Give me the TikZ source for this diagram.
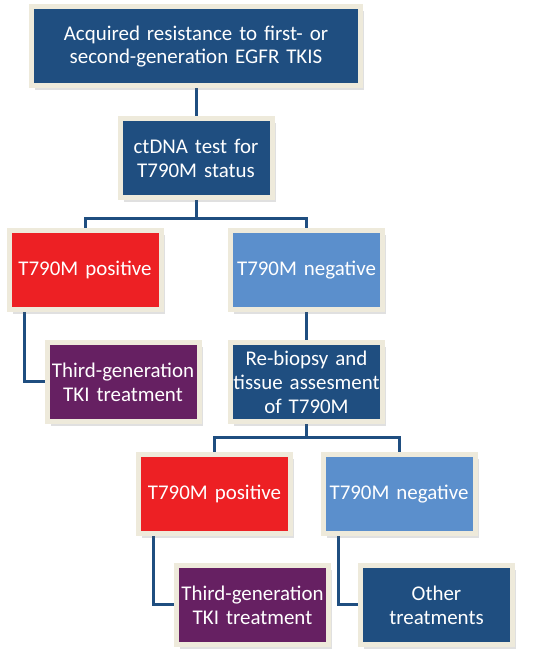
\documentclass[tikz,border=0pt]{standalone}
\usepackage{fontspec}
\setmainfont{Carlito}
\usetikzlibrary{shadows,backgrounds}
\definecolor{boxblue}{RGB}{31,78,128}
\definecolor{boxred}{RGB}{237,32,36}
\definecolor{boxlight}{RGB}{91,143,204}
\definecolor{boxpurple}{RGB}{102,32,98}
\definecolor{framecream}{RGB}{238,234,219}
\tikzset{
  box/.style={draw=framecream,line width=5bp,text=white,inner sep=0pt,
    minimum width=152bp,minimum height=79bp,text width=150bp,align=center,
    font=\fontsize{21}{24}\selectfont,
    drop shadow={shadow xshift=3.5bp,shadow yshift=-4.5bp,opacity=0.2,fill=black!60}},
  link/.style={draw=boxblue,line width=3bp},
}
\begin{document}
\begin{tikzpicture}[line join=miter]
\useasboundingbox (0bp,0bp) rectangle (542bp,658bp);
%%
\node (node_0) at (196bp,611.5bp) [box,fill=boxblue,minimum width=329bp,text width=320bp] {Acquired resistance to first- or\\second-generation EGFR TKIS};
  \node (node_1) at (196bp,499.5bp) [box,fill=boxblue] {ctDNA test for\\T790M status};
  \node (node_2) at (85bp,388bp) [box,fill=boxred] {T790M positive};
  \node (node_3) at (306.5bp,388bp) [box,fill=boxlight] {T790M negative};
  \node (node_4) at (123bp,276bp) [box,fill=boxpurple] {Third-generation\\TKI treatment};
  \node (node_5) at (306.5bp,276bp) [box,fill=boxblue] {Re-biopsy and\\tissue assesment\\of T790M};
  \node (node_6) at (214.5bp,164bp) [box,fill=boxred] {T790M positive};
  \node (node_7) at (399bp,164bp) [box,fill=boxlight] {T790M negative};
  \node (node_8) at (252.5bp,53bp) [box,fill=boxpurple] {Third-generation\\TKI treatment};
  \node (node_9) at (436.5bp,53bp) [box,fill=boxblue] {Other\\treatments};
%
  \coordinate (bus_0) at (196bp,439bp);
  \coordinate (bus_1) at (306.5bp,220bp);
\begin{scope}[on background layer]
  \fill [white] (0bp,0bp) rectangle (542bp,658bp);
  \draw [link] (node_0) -- (node_1);
  \draw [link] (node_1) -- (bus_0);
  \draw [link] (node_2) |- (bus_0) -| (node_3);
  \draw [link] ([xshift=-61bp]node_2.south) |- (node_4.west);
  \draw [link] (node_3) -- (node_5);
  \draw [link] (node_5) -- (bus_1);
  \draw [link] (node_6) |- (bus_1) -| (node_7);
  \draw [link] ([xshift=-61bp]node_6.south) |- (node_8.west);
  \draw [link] ([xshift=-61bp]node_7.south) |- (node_9.west);
\end{scope}
%
\end{tikzpicture}
\end{document}
